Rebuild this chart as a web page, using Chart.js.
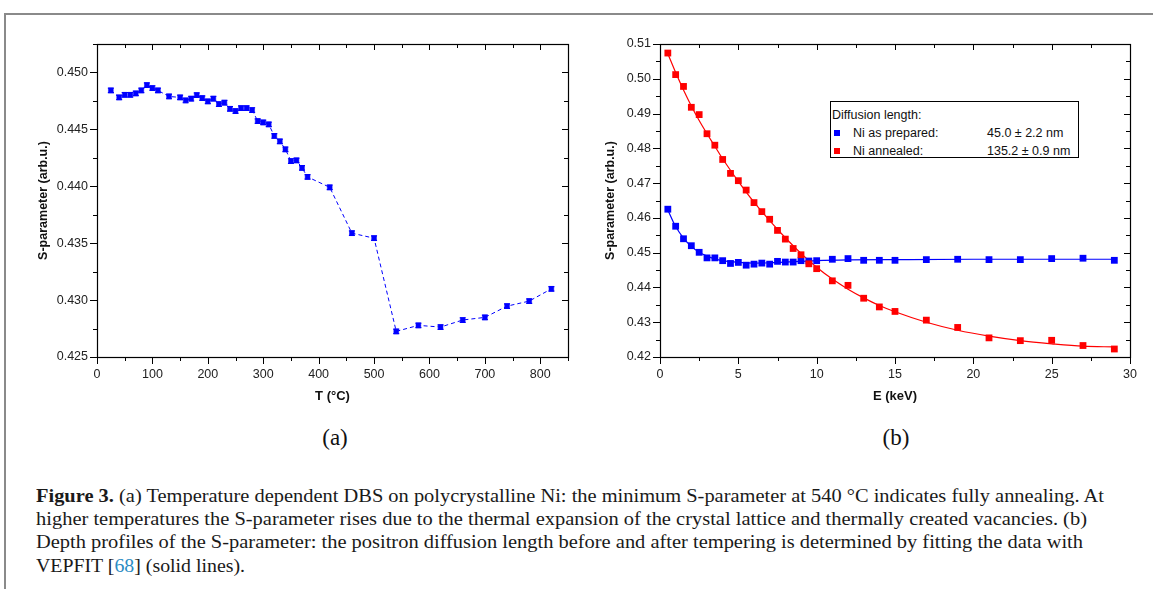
<!DOCTYPE html>
<html>
<head>
<meta charset="utf-8">
<script src="https://cdn.jsdelivr.net/npm/chart.js@4.4.1/dist/chart.umd.min.js"></script>
<style>
  body { margin: 0; width: 1153px; height: 589px; overflow: hidden; background: #fff; position: relative; }
  .frame { position: absolute; left: 4px; top: 13px; width: 1170px; height: 600px;
           border-top: 2px solid #8a8a8a; border-left: 2px solid #8a8a8a; }
  canvas { position: absolute; top: 0; }
  .sub { position: absolute; font-family: "Liberation Serif", serif; font-size: 23px; color: #111;
         transform: translate(-50%, -50%); }
  .legend { position: absolute; left: 830px; top: 101px; width: 247px; height: 55px;
            border: 1px solid #000; background: #fff; font-family: "Liberation Sans", Arial, sans-serif;
            font-size: 12.5px; color: #111; }
  .legend div { position: absolute; white-space: nowrap; line-height: 14px; }
  .legend .mk { width: 6px; height: 6px; }
  .cap { position: absolute; left: 36px; font-family: "Liberation Serif", serif; font-size: 19px;
         line-height: 19px; color: #1a1a1a; white-space: nowrap; transform-origin: 0 0; }
  .cap a { color: #2b8cc4; text-decoration: none; }
</style>
</head>
<body>
<div class="frame"></div>
<canvas id="chartA" width="580" height="420" style="left:0px"></canvas>
<canvas id="chartB" width="593" height="420" style="left:560px"></canvas>

<div class="sub" style="left:335px; top:438px">(a)</div>
<div class="sub" style="left:896px; top:438px">(b)</div>

<div class="legend">
  <div style="left:1px; top:6px">Diffusion length:</div>
  <div class="mk" style="left:3px; top:28px; background:#0000ff"></div>
  <div style="left:22px; top:24px">Ni as prepared:</div>
  <div style="left:156px; top:24px">45.0 ± 2.2 nm</div>
  <div class="mk" style="left:3px; top:46px; background:#ff0000"></div>
  <div style="left:22px; top:42px">Ni annealed:</div>
  <div style="left:156px; top:42px">135.2 ± 0.9 nm</div>
</div>

<div class="cap" data-w="1068" style="top:486px"><b>Figure 3.</b> (a) Temperature dependent DBS on polycrystalline Ni: the minimum S-parameter at 540 °C indicates fully annealing. At</div>
<div class="cap" data-w="1051" style="top:509px">higher temperatures the S-parameter rises due to the thermal expansion of the crystal lattice and thermally created vacancies. (b)</div>
<div class="cap" data-w="1047" style="top:532px">Depth profiles of the S-parameter: the positron diffusion length before and after tempering is determined by fitting the data with</div>
<div class="cap" data-w="209" style="top:556px">VEPFIT [<a>68</a>] (solid lines).</div>

<script>
// (a) temperature series
const tempC = [25, 40, 50, 60, 70, 80, 90, 100, 110, 130, 150, 160, 170, 180, 190, 200, 210, 220, 230, 240,
  250, 260, 270, 280, 290, 300, 310, 320, 330, 340, 350, 360, 370, 380, 420, 460, 500, 540, 580, 620,
  660, 700, 740, 780, 820];
const sTemp = [0.44842, 0.44781, 0.44804, 0.44804, 0.44816, 0.44842, 0.44889, 0.44863, 0.44842, 0.44789,
  0.44781, 0.44754, 0.44769, 0.44801, 0.44775, 0.44746, 0.44769, 0.44722, 0.44734, 0.44681,
  0.44661, 0.44687, 0.44687, 0.44670, 0.44573, 0.44561, 0.44544, 0.44442, 0.44395, 0.44325,
  0.44222, 0.44228, 0.44161, 0.44082, 0.43991, 0.43588, 0.43544, 0.42725, 0.42778, 0.42763,
  0.42825, 0.42848, 0.42947, 0.42991, 0.43099];
const sTempErr = 0.0002;

// (b) depth profiles
const energyKeV = [0.5, 1, 1.5, 2, 2.5, 3, 3.5, 4, 4.5, 5, 5.5, 6, 6.5, 7, 7.5, 8, 8.5, 9, 9.5, 10,
  11, 12, 13, 14, 15, 17, 19, 21, 23, 25, 27, 29];
const sPrepared = [0.4625, 0.4576, 0.4540, 0.4520, 0.4501, 0.4485, 0.4485, 0.4477, 0.4469, 0.4472,
  0.4464, 0.4467, 0.4470, 0.4467, 0.4475, 0.4473, 0.4473, 0.4477, 0.4476, 0.4477,
  0.4481, 0.4483, 0.4478, 0.4478, 0.4478, 0.4480, 0.4481, 0.4480, 0.4480, 0.4483, 0.4484, 0.4478];
const sAnnealed = [0.5074, 0.5012, 0.4978, 0.4918, 0.4897, 0.4842, 0.4809, 0.4768, 0.4728, 0.4707,
  0.4680, 0.4644, 0.4618, 0.4596, 0.4564, 0.4539, 0.4512, 0.4494, 0.4468, 0.4454,
  0.4419, 0.4406, 0.4369, 0.4344, 0.4331, 0.4306, 0.4285, 0.4255, 0.4247, 0.4248, 0.4233, 0.4223];

// VEPFIT curves
const fitPreparedE = [0.5, 1, 1.5, 2, 2.5, 3, 3.5, 4, 5, 6, 7, 8, 9, 10, 12, 15, 20, 25, 29];
const fitPreparedS = [0.4623, 0.4575, 0.4542, 0.4518, 0.4501, 0.4490, 0.4482, 0.4477, 0.4472, 0.4470,
  0.4471, 0.4473, 0.4475, 0.4477, 0.4479, 0.4480, 0.4481, 0.4481, 0.4481];
const fitAnnealedE = [0.5, 1, 1.5, 2, 2.5, 3, 3.5, 4, 5, 6, 7, 8, 9, 10, 11, 12, 13, 14, 15, 17, 19, 21, 23, 25, 27, 29];
const fitAnnealedS = [0.5072, 0.5018, 0.4968, 0.4922, 0.4880, 0.4842, 0.4806, 0.4770, 0.4705, 0.4645,
  0.4592, 0.4543, 0.4498, 0.4458, 0.4424, 0.4395, 0.4370, 0.4348, 0.4330, 0.4300,
  0.4277, 0.4260, 0.4247, 0.4238, 0.4231, 0.4229];

const BLUE = '#0000ff';
const RED = '#ff0000';
const FONT = '"Liberation Sans", Arial, sans-serif';

const pts = (xs, ys) => xs.map((x, i) => ({ x: x, y: ys[i] }));

// frame on all four sides, ticks out on left/bottom and in on top/right
const frameTicks = {
  id: 'frameTicks',
  afterDatasetsDraw(chart, args, opts) {
    const { ctx, chartArea: a, scales: { x, y } } = chart;
    ctx.save();
    ctx.strokeStyle = '#000';
    ctx.lineWidth = 1.2;
    ctx.strokeRect(Math.round(a.left) + 0.5, Math.round(a.top) + 0.5,
      Math.round(a.right - a.left), Math.round(a.bottom - a.top));
    ctx.lineWidth = 1;
    ctx.beginPath();
    const walk = (min, max, minor, major, fn) => {
      const n = Math.round((max - min) / minor);
      for (let i = 0; i <= n; i++) {
        const v = min + i * minor;
        const q = v / major;
        fn(v, Math.abs(q - Math.round(q)) < 1e-6);
      }
    };
    walk(x.min, x.max, opts.xMinor, opts.xMajor, (v, big) => {
      const px = Math.round(x.getPixelForValue(v)) + 0.5;
      ctx.moveTo(px, a.bottom); ctx.lineTo(px, a.bottom + (big ? 7 : 4));
      ctx.moveTo(px, a.top); ctx.lineTo(px, a.top + (big ? 6 : 4));
    });
    walk(y.min, y.max, opts.yMinor, opts.yMajor, (v, big) => {
      const py = Math.round(y.getPixelForValue(v)) + 0.5;
      ctx.moveTo(a.left, py); ctx.lineTo(a.left - (big ? 7 : 4), py);
      ctx.moveTo(a.right, py); ctx.lineTo(a.right - (big ? 6 : 4), py);
    });
    ctx.stroke();
    ctx.restore();
  }
};

const errorBars = {
  id: 'errorBars',
  afterDatasetsDraw(chart, args, opts) {
    if (!opts.err) return;
    const { ctx, scales: { y } } = chart;
    const meta = chart.getDatasetMeta(0);
    ctx.save();
    ctx.strokeStyle = BLUE;
    ctx.lineWidth = 1.2;
    ctx.beginPath();
    meta.data.forEach((el, i) => {
      const v = chart.data.datasets[0].data[i].y;
      const y0 = y.getPixelForValue(v - opts.err);
      const y1 = y.getPixelForValue(v + opts.err);
      ctx.moveTo(el.x, y0); ctx.lineTo(el.x, y1);
      ctx.moveTo(el.x - 3, y0); ctx.lineTo(el.x + 3, y0);
      ctx.moveTo(el.x - 3, y1); ctx.lineTo(el.x + 3, y1);
    });
    ctx.stroke();
    ctx.restore();
  }
};

function axes(xCfg, yCfg, yWidth, yTitlePad) {
  return {
    x: {
      type: 'linear', min: xCfg.min, max: xCfg.max,
      grid: { display: false, tickLength: 0 }, border: { display: false },
      ticks: { stepSize: xCfg.step, includeBounds: false, padding: 10, color: '#222',
               font: { family: FONT, size: 12.5 }, maxRotation: 0 },
      title: { display: true, text: xCfg.title, color: '#111', padding: { top: 0, bottom: 3 },
               font: { family: FONT, size: 13, weight: 'bold' } },
      afterFit: s => { s.height = 50; }
    },
    y: {
      type: 'linear', min: yCfg.min, max: yCfg.max,
      grid: { display: false, tickLength: 0 }, border: { display: false },
      ticks: { stepSize: yCfg.step, includeBounds: false, padding: 9, color: '#222',
               font: { family: FONT, size: 12.5 }, callback: v => v.toFixed(yCfg.digits) },
      title: { display: true, text: 'S-parameter (arb.u.)', color: '#111', padding: { top: yTitlePad, bottom: 0 },
               font: { family: FONT, size: 12.5, weight: 'bold' } },
      afterFit: s => { s.width = yWidth; }
    }
  };
}

Chart.defaults.animation = false;

new Chart(document.getElementById('chartA'), {
  type: 'scatter',
  data: {
    datasets: [{
      data: pts(tempC, sTemp),
      showLine: true,
      borderColor: BLUE, borderWidth: 1, borderDash: [4, 3],
      pointStyle: 'rect', pointRadius: 3.4, pointBackgroundColor: BLUE, pointBorderColor: BLUE, pointBorderWidth: 0.5
    }]
  },
  options: {
    responsive: false, devicePixelRatio: 1,
    layout: { padding: { left: 0, top: 44, right: 12, bottom: 13 } },
    plugins: {
      legend: { display: false }, tooltip: { enabled: false },
      frameTicks: { xMajor: 100, xMinor: 50, yMajor: 0.005, yMinor: 0.0025 },
      errorBars: { err: sTempErr }
    },
    scales: axes({ min: 0, max: 850, step: 100, title: 'T (°C)' },
                 { min: 0.425, max: 0.4525, step: 0.005, digits: 3 }, 97, 36)
  },
  plugins: [frameTicks, errorBars]
});

new Chart(document.getElementById('chartB'), {
  type: 'scatter',
  data: {
    datasets: [
      { data: pts(fitPreparedE, fitPreparedS), showLine: true, borderColor: BLUE, borderWidth: 1.2,
        cubicInterpolationMode: 'monotone', pointRadius: 0, order: 4 },
      { data: pts(fitAnnealedE, fitAnnealedS), showLine: true, borderColor: RED, borderWidth: 1.2,
        cubicInterpolationMode: 'monotone', pointRadius: 0, order: 3 },
      { data: pts(energyKeV, sPrepared), pointStyle: 'rect', pointRadius: 4.8,
        pointBackgroundColor: BLUE, pointBorderColor: BLUE, pointBorderWidth: 0, order: 2 },
      { data: pts(energyKeV, sAnnealed), pointStyle: 'rect', pointRadius: 4.8,
        pointBackgroundColor: RED, pointBorderColor: RED, pointBorderWidth: 0, order: 1 }
    ]
  },
  options: {
    responsive: false, devicePixelRatio: 1,
    layout: { padding: { left: 0, top: 44, right: 23, bottom: 13 } },
    plugins: {
      legend: { display: false }, tooltip: { enabled: false },
      frameTicks: { xMajor: 5, xMinor: 2.5, yMajor: 0.01, yMinor: 0.005 },
      errorBars: { err: 0 }
    },
    scales: axes({ min: 0, max: 30, step: 5, title: 'E (keV)' },
                 { min: 0.42, max: 0.51, step: 0.01, digits: 2 }, 100, 43.5)
  },
  plugins: [frameTicks]
});

// stretch caption lines to the widths of the printed lines
document.querySelectorAll('.cap').forEach(el => {
  const w = el.getBoundingClientRect().width;
  el.style.transform = 'scaleX(' + (Number(el.dataset.w) / w) + ')';
});
</script>
</body>
</html>
